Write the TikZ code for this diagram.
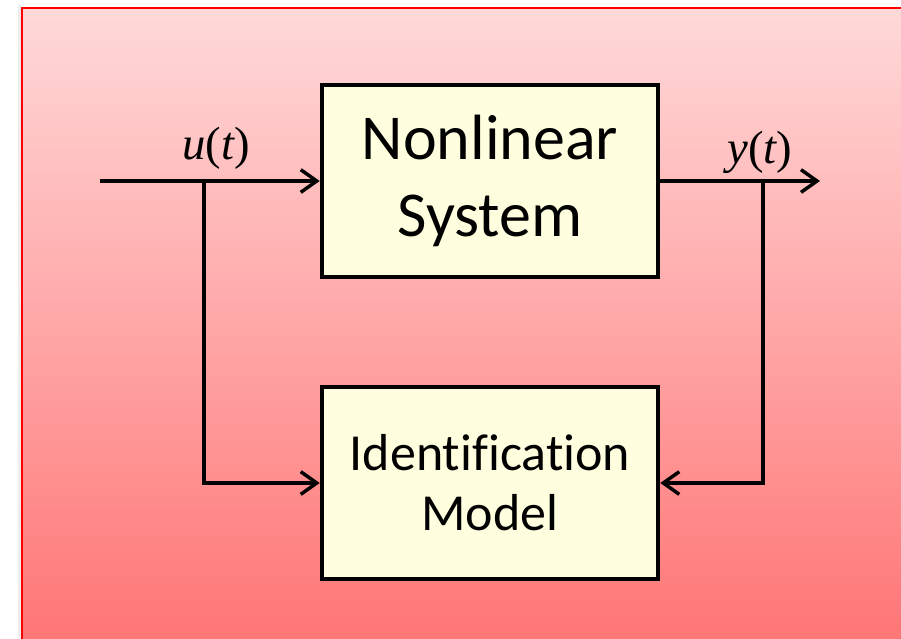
\documentclass[tikz,border=0pt]{standalone}
\usepackage{fontspec}
\newfontfamily\boxfont[Ligatures=NoCommon]{Carlito}
\newfontfamily\sigfont{Liberation Serif}
\usetikzlibrary{arrows.meta}
\definecolor{boxfill}{RGB}{255,255,224}
\definecolor{bgtop}{RGB}{255,217,217}
\definecolor{bgbottom}{RGB}{255,118,118}
\definecolor{frame}{RGB}{255,0,0}

\begin{document}
\begin{tikzpicture}
  [x=0.75pt, y=-0.75pt]
  \tikzstyle{block} = [draw=black, line width=3.4pt, fill=boxfill, minimum width=252pt, minimum height=144pt, align=center, inner sep=0pt];
  \tikzstyle{big_block} = [block, font=\boxfont\fontsize{48}{58}\selectfont];
  \tikzstyle{small_block} = [block, font=\boxfont\fontsize{39}{49}\selectfont];
  \tikzstyle{sig} = [line width=2.6pt];
  \tikzstyle{sig_arrow} = [sig, -{Straight Barb[length=12pt, width=17pt, line width=2.6pt]}];
  \tikzstyle{sig_label} = [font=\sigfont\fontsize{35}{40}\selectfont, inner sep=0pt];

  \path[use as bounding box, fill=white] (0, 0) rectangle (901, 639);
  \fill[black!7] (18, 5) rectangle (21, 639);
  \foreach \i in {0,...,157} {
    \pgfmathsetmacro{\mix}{100-\i/157*100}
    \fill[bgtop!\mix!bgbottom] (21, 7+\i*4) rectangle (901, 11.5+\i*4);
  }
  \draw[frame, line width=1.5pt] (22, 639) -- (22, 8) -- (901, 8);

  \node[big_block]   (sys)   at (490, 181) {Nonlinear\\System};
  \node[small_block] (model) at (490, 483) {\raisebox{-4pt}{Identification}\\Model};

  \coordinate (in)      at (100, 181);
  \coordinate (ubranch) at (204, 181);
  \coordinate (out)     at (820, 181);
  \coordinate (ybranch) at (763, 181);

  \node[sig_label] (ulabel) at (216, 148) {{\itshape u}({\itshape t})};
  \node[sig_label] (ylabel) at (760, 152) {{\itshape y}({\itshape t})};

  \draw[sig_arrow] (in) -- (sys.west);
  \draw[sig_arrow] (sys.east) -- (out);
  \draw[sig_arrow] (ubranch) |- (model.west);
  \draw[sig_arrow] (ybranch) |- (model.east);

\end{tikzpicture}
\end{document}
